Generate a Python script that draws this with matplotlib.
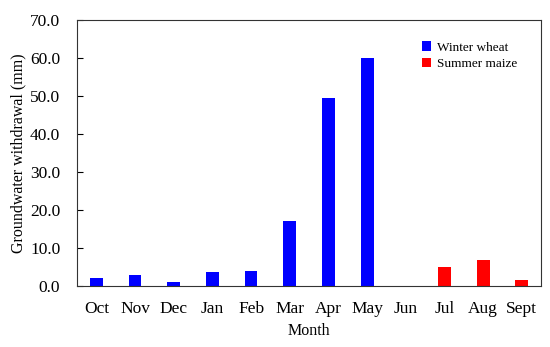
import numpy as np
import matplotlib.pyplot as plt

plt.rcParams['font.family'] = ['Liberation Serif', 'DejaVu Serif']

months = ['Oct', 'Nov', 'Dec', 'Jan', 'Feb', 'Mar', 'Apr', 'May', 'Jun', 'Jul', 'Aug', 'Sept']
wheat_months = ['Oct', 'Nov', 'Dec', 'Jan', 'Feb', 'Mar', 'Apr', 'May']
wheat = [2.0, 3.0, 1.0, 3.6, 4.0, 17.1, 49.6, 60.0]
maize_months = ['Jun', 'Jul', 'Aug', 'Sept']
maize = [0.0, 5.1, 6.9, 1.5]

fig = plt.figure(figsize=(5.5, 3.47), dpi=100)
ax = fig.add_axes([0.140, 0.176, 0.844, 0.766])

x_w = [months.index(m) for m in wheat_months]
x_m = [months.index(m) for m in maize_months]
ax.bar(x_w, wheat, width=0.33, color='#0000ff', label='Winter wheat')
ax.bar(x_m, maize, width=0.33, color='#ff0000', label='Summer maize')

ax.set_xlim(-0.5, len(months) - 0.5)
ax.set_ylim(0, 70)
ax.set_yticks(np.arange(0, 71, 10))
ax.set_yticklabels(['%.1f' % v for v in np.arange(0, 71, 10)])
ax.set_xticks(range(len(months)))
ax.set_xticklabels(months)
ax.tick_params(axis='y', direction='in', length=4, labelsize=12.5, pad=12)
ax.tick_params(axis='x', length=0, labelsize=12.5, pad=11)
for s in ax.spines.values():
    s.set_linewidth(0.8)
    s.set_color('#333333')

ax.set_ylabel('Groundwater withdrawal (mm)', fontsize=11.5, labelpad=3)
ax.set_xlabel('Month', fontsize=11.5, labelpad=4)

ax.legend(loc='upper right', bbox_to_anchor=(0.975, 0.965), frameon=False, fontsize=9.5,
          handlelength=0.7, handleheight=0.7, handletextpad=0.5, labelspacing=0.35)

fig.savefig('out.png', dpi=100)
